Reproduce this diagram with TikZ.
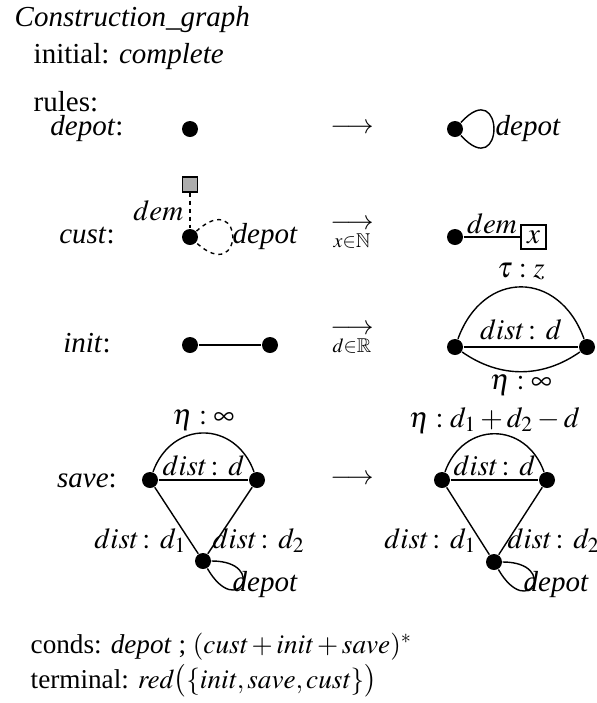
\documentclass[tikz,border=0pt]{standalone}
\usepackage{amsmath,amssymb}
\usepackage{mathptmx}
\usepackage{fontspec}
\setmainfont{Liberation Serif}
\usetikzlibrary{positioning}

\begin{document}
\begin{tikzpicture}[x=0.5pt, y=-0.5pt, line width=0.7pt,
        font=\fontsize{14.5}{17}\selectfont,
        vtx/.style={circle, fill=black, inner sep=0pt, minimum size=8pt},
        demsq/.style={rectangle, draw, line width=0.6pt, fill=black!32, inner sep=0pt, minimum size=7.5pt},
        valbox/.style={rectangle, draw, line width=0.6pt, inner sep=0pt, minimum width=12.5pt, minimum height=12pt},
        dsh/.style={dash pattern=on 2pt off 2pt},
        txt/.style={anchor=base west, inner sep=0pt},
        rname/.style={anchor=base, inner sep=0pt},
        rarrow/.style={anchor=base, inner sep=0pt, font=\fontsize{13.5}{16}\selectfont},
        foot/.style={anchor=base west, inner sep=0pt, font=\fontsize{13.6}{16}\selectfont}]
    \useasboundingbox (0,0) rectangle (596,703);

    % header
    \node[txt] (title) at (14,26) {\textit{Construction\_graph}};
    \node[txt] (initial) at (33,63) {initial: \textit{complete}};
    \node[txt] (rules) at (33,111) {rules:};

    % depot
    \node[rname] (ndepot) at (87,135) {\textit{depot}:};
    \node[vtx] (d1) at (190,129) {};
    \node[rarrow] (adepot) at (352,133) {$\longrightarrow$};
    \node[vtx] (d2) at (455,129) {};
    \draw (d2) .. controls +(50,-55) and +(50,55) .. (d2);
    \node[txt] (ldepot) at (495,135) {\textit{depot}};

    % cust
    \node[rname] (ncust) at (87,243) {\textit{cust}:};
    \node[vtx] (c1) at (190,237) {};
    \node[demsq] (q1) at (190,184.5) {};
    \draw[dsh] (q1) -- (c1);
    \node[anchor=base east, inner sep=0pt] (ldem) at (184,220) {$dem$};
    \draw[dsh] (c1) .. controls +(55,-50) and +(55,50) .. (c1);
    \node[txt] (lcdepot) at (232,243) {\textit{depot}};
    \node[rarrow] (acust) at (352,229) {$\underset{x\in\mathbb{N}}{\longrightarrow}$};
    \node[vtx] (c2) at (455,237) {};
    \node[valbox] (xb) at (533.5,237) {$x$};
    \draw (c2) -- node[above, inner sep=1pt] {$dem$} (xb);

    % init
    \node[rname] (ninit) at (87,352) {\textit{init}:};
    \node[vtx] (i1) at (190,345) {};
    \node[vtx] (i2) at (270,345) {};
    \draw (i1) -- (i2);
    \node[rarrow] (ainit) at (352,334) {$\underset{d\in\mathbb{R}}{\longrightarrow}$};
    \node[vtx] (i3) at (455,347) {};
    \node[vtx] (i4) at (587,347) {};
    \draw (i3) to[bend left=70, looseness=1.5] node[above] {$\tau: z$} (i4);
    \draw (i3) -- node[above] {$dist\colon d$} (i4);
    \draw (i3) to[bend right=35] node[below, inner sep=1pt] {$\eta: \infty$} (i4);

    % save
    \node[rname] (nsave) at (87,487) {\textit{save}:};
    \node[vtx] (s1) at (150,480) {};
    \node[vtx] (s2) at (257,480) {};
    \node[vtx] (s3) at (203,561) {};
    \draw (s1) to[bend left=70, looseness=1.4] node[above, inner sep=1pt] {$\eta: \infty$} (s2);
    \draw (s1) -- node[above, inner sep=1.5pt] {$dist\colon d$} (s2);
    \draw (s1) -- (s3);
    \draw (s2) -- (s3);
    \node[anchor=base east, inner sep=0pt] (sd1) at (187,548) {$dist\colon d_1$};
    \node[txt] (sd2) at (212,548) {$dist\colon d_2$};
    \draw (s3) .. controls +(65,0) and +(35,60) .. (s3);
    \node[txt] (sdepot) at (232,591) {\textit{depot}};
    \node[rarrow] (asave) at (352,484) {$\longrightarrow$};
    \node[vtx] (s4) at (442,480) {};
    \node[vtx] (s5) at (547,480) {};
    \node[vtx] (s6) at (494,562) {};
    \draw (s4) to[bend left=70, looseness=1.4] node[above, inner sep=0pt] {$\eta: d_1+d_2-d$} (s5);
    \draw (s4) -- node[above, inner sep=1.5pt] {$dist\colon d$} (s5);
    \draw (s4) -- (s6);
    \draw (s5) -- (s6);
    \node[anchor=base east, inner sep=0pt] (sd3) at (477,548) {$dist\colon d_1$};
    \node[txt] (sd4) at (507,548) {$dist\colon d_2$};
    \draw (s6) .. controls +(65,0) and +(35,60) .. (s6);
    \node[txt] (sdepot2) at (523,591) {\textit{depot}};

    % conditions
    \node[foot] (conds) at (30,653) {conds: \textit{depot} ; $(\mathit{cust}+\mathit{init}+\mathit{save})^*$};
    \node[foot] (term) at (30,688) {terminal: $\mathit{red}\bigl(\{\mathit{init},\mathit{save},\mathit{cust}\}\bigr)$};
\end{tikzpicture}
\end{document}
